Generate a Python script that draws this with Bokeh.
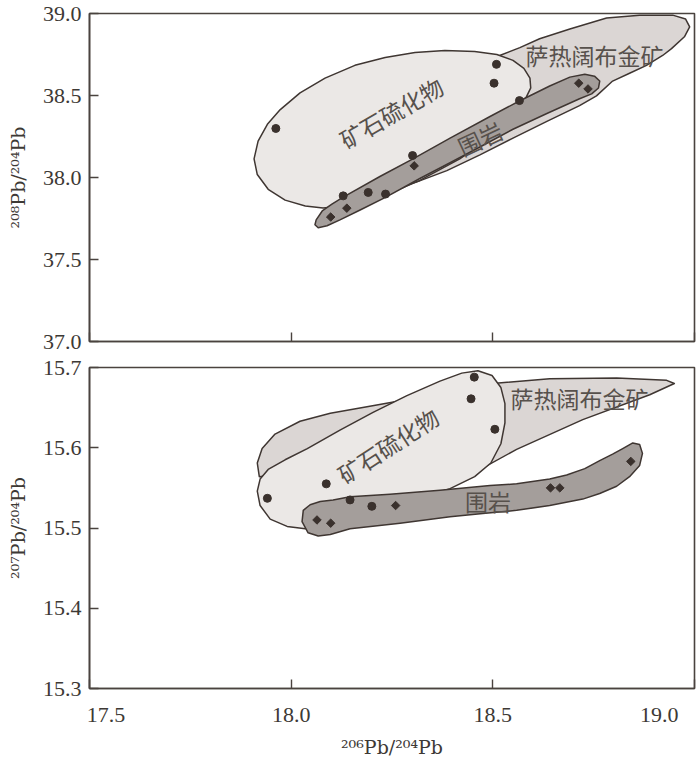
import math
from bokeh.plotting import figure
from bokeh.layouts import column
from bokeh.models import ColumnDataSource, FixedTicker, PrintfTickFormatter, Range1d
from bokeh.core.properties import value
from bokeh.embed import file_html
from bokeh.resources import INLINE

# ---------------- data ----------------
x_ticks = [17.5, 18.0, 18.5, 19.0]
y_ticks_top = [37.0, 37.5, 38.0, 38.5, 39.0]
y_ticks_bot = [15.3, 15.4, 15.5, 15.6, 15.7]

# 208Pb/204Pb vs 206Pb/204Pb
top_circ_x = [17.962, 18.509, 18.503, 18.566, 18.301, 18.129, 18.191, 18.234]
top_circ_y = [38.299, 38.690, 38.575, 38.469, 38.134, 37.888, 37.909, 37.899]
top_dia_x = [18.098, 18.138, 18.305, 18.713, 18.736]
top_dia_y = [37.759, 37.813, 38.071, 38.575, 38.540]

# 207Pb/204Pb vs 206Pb/204Pb
bot_circ_x = [18.454, 18.446, 18.505, 18.087, 17.941, 18.146, 18.200]
bot_circ_y = [15.688, 15.661, 15.623, 15.555, 15.537, 15.535, 15.527]
bot_dia_x = [18.064, 18.098, 18.259, 18.643, 18.666, 18.842]
bot_dia_y = [15.510, 15.506, 15.528, 15.550, 15.550, 15.583]

# field outlines (top panel)
top_sar_x = [18.270, 18.443, 18.517, 18.567, 18.616, 18.691, 18.782, 18.864, 18.946, 18.978,
             18.988, 18.975, 18.943, 18.921, 18.881, 18.839, 18.797, 18.757, 18.715, 18.634,
             18.550, 18.468, 18.386, 18.302, 18.228, 18.171, 18.121, 18.171]
top_sar_y = [38.564, 38.714, 38.744, 38.792, 38.846, 38.906, 38.972, 38.990, 38.990, 38.966,
             38.918, 38.858, 38.786, 38.744, 38.684, 38.636, 38.588, 38.498, 38.438, 38.342,
             38.240, 38.138, 38.042, 37.964, 37.886, 37.838, 37.874, 38.174]
top_sulf_x = [18.510, 18.550, 18.577, 18.592, 18.594, 18.582, 18.517, 18.418, 18.319, 18.220,
              18.134, 18.079, 18.035, 17.985, 17.943, 17.916, 17.908, 17.918, 17.941, 17.973,
              18.022, 18.084, 18.158, 18.233, 18.307, 18.381, 18.455]
top_sulf_y = [38.750, 38.714, 38.666, 38.606, 38.546, 38.486, 38.282, 38.114, 37.982, 37.892,
              37.826, 37.814, 37.826, 37.862, 37.928, 38.018, 38.114, 38.222, 38.324, 38.414,
              38.516, 38.606, 38.684, 38.732, 38.762, 38.774, 38.768]
top_wall_x = [18.062, 18.077, 18.101, 18.129, 18.220, 18.302, 18.394, 18.493, 18.567, 18.641,
              18.691, 18.728, 18.752, 18.765, 18.762, 18.745, 18.715, 18.634, 18.550, 18.468,
              18.394, 18.319, 18.235, 18.171, 18.121, 18.089, 18.067, 18.059]
top_wall_y = [37.742, 37.796, 37.838, 37.880, 38.006, 38.114, 38.240, 38.372, 38.468, 38.558,
              38.612, 38.630, 38.618, 38.588, 38.546, 38.510, 38.480, 38.390, 38.294, 38.186,
              38.090, 37.994, 37.880, 37.802, 37.742, 37.706, 37.694, 37.712]

# field outlines (bottom panel)
bot_sar_x = [18.950, 18.931, 18.807, 18.641, 18.500, 18.344, 18.188, 18.097, 18.022, 17.960,
             17.928, 17.916, 17.921, 18.022, 18.270, 18.406, 18.436, 18.559, 18.723, 18.889]
bot_sar_y = [15.680, 15.684, 15.687, 15.686, 15.680, 15.665, 15.651, 15.643, 15.633, 15.617,
             15.599, 15.581, 15.564, 15.570, 15.587, 15.557, 15.564, 15.598, 15.635, 15.666]
bot_sulf_x = [17.916, 17.923, 17.943, 17.985, 18.040, 18.121, 18.203, 18.287, 18.369, 18.423,
              18.463, 18.498, 18.520, 18.530, 18.530, 18.520, 18.495, 18.455, 18.394, 18.270,
              18.121, 18.035, 17.990, 17.948, 17.923]
bot_sulf_y = [15.546, 15.561, 15.573, 15.585, 15.599, 15.622, 15.644, 15.665, 15.683, 15.693,
              15.696, 15.690, 15.675, 15.655, 15.631, 15.605, 15.581, 15.564, 15.549, 15.530,
              15.514, 15.499, 15.502, 15.511, 15.528]
bot_wall_x = [18.027, 18.030, 18.047, 18.072, 18.104, 18.146, 18.245, 18.369, 18.493, 18.559,
              18.641, 18.683, 18.728, 18.765, 18.797, 18.822, 18.847, 18.864, 18.871, 18.864,
              18.839, 18.807, 18.765, 18.723, 18.641, 18.559, 18.475, 18.394, 18.270, 18.146,
              18.097, 18.067, 18.042]
bot_wall_y = [15.508, 15.522, 15.529, 15.533, 15.535, 15.539, 15.542, 15.547, 15.553, 15.555,
              15.561, 15.566, 15.574, 15.584, 15.592, 15.599, 15.606, 15.604, 15.593, 15.578,
              15.564, 15.552, 15.543, 15.536, 15.528, 15.522, 15.518, 15.514, 15.506, 15.499,
              15.492, 15.490, 15.494]

field_labels = ["矿石硫化物", "萨热阔布金矿", "围岩"]
top_label_x = [18.248, 18.752, 18.468]
top_label_y = [38.396, 38.750, 38.240]
top_label_angle = [30, 0, 25]
bot_label_x = [18.240, 18.715, 18.488]
bot_label_y = [15.603, 15.662, 15.534]
bot_label_angle = [33, 0, 0]

# ---------------- style ----------------
FRAME = "#4a433f"
EDGE = "#3f3632"
TXT = "#3d3935"
LBL = "#57514c"
SAR_FILL = "#dbd6d4"
SULF_FILL = "#ebe8e6"
WALL_FILL = "#a49e9b"
MARK = "#3a312d"
SERIF = "Liberation Serif"
LABEL_FONT = "DejaVu Serif"


def make_fig(height, y0, y1, yticks, ylabel, top_b, bot_b, xlabels):
    p = figure(width=700, height=height, x_range=Range1d(17.5, 19.0), y_range=Range1d(y0, y1),
               output_backend="svg", toolbar_location=None,
               min_border_left=89, min_border_right=6, min_border_top=top_b, min_border_bottom=bot_b)
    p.grid.visible = False
    p.background_fill_color = "white"
    p.border_fill_color = "white"
    p.outline_line_color = FRAME
    p.outline_line_width = 1.6
    p.outline_line_alpha = 1.0
    for ax in (p.xaxis[0], p.yaxis[0]):
        ax.axis_line_color = FRAME
        ax.axis_line_width = 1.6
        ax.major_tick_in = 9
        ax.major_tick_out = 0
        ax.major_tick_line_color = FRAME
        ax.major_tick_line_width = 1.4
        ax.minor_tick_line_color = None
        ax.major_label_text_font = SERIF
        ax.major_label_text_font_size = "22px"
        ax.major_label_text_color = TXT
        ax.axis_label_text_font = LABEL_FONT
        ax.axis_label_text_font_size = "19px"
        ax.axis_label_text_font_style = "normal"
        ax.axis_label_text_color = TXT
    p.xaxis.ticker = FixedTicker(ticks=x_ticks)
    p.yaxis.ticker = FixedTicker(ticks=yticks)
    p.yaxis.formatter = PrintfTickFormatter(format="%.1f")
    p.xaxis.formatter = PrintfTickFormatter(format="%.1f")
    p.yaxis.major_label_standoff = 8
    p.yaxis.axis_label = ylabel
    p.yaxis.axis_label_standoff = 11
    if xlabels:
        p.xaxis.major_label_standoff = 13
        p.xaxis.major_label_overrides = {x_ticks[0]: "\u2002\u2002\u2002" + "%.1f" % x_ticks[0],
                                         x_ticks[-1]: "%.1f" % x_ticks[-1] + "\u2002\u2002"}
        p.xaxis.axis_label = "²⁰⁶Pb/²⁰⁴Pb"
        p.xaxis.axis_label_standoff = 6
    else:
        p.xaxis.major_label_standoff = 0
        p.xaxis.major_label_overrides = {t: "" for t in x_ticks}
    return p


def draw_panel(p, sar, sulf, wall, circ, dia, lx, ly, lang):
    p.patch(sar[0], sar[1], fill_color=SAR_FILL, line_color=EDGE, line_width=1.5, line_join="round")
    p.patch(sulf[0], sulf[1], fill_color=SULF_FILL, line_color=EDGE, line_width=1.5, line_join="round")
    p.patch(wall[0], wall[1], fill_color=WALL_FILL, line_color=EDGE, line_width=1.5, line_join="round")
    p.scatter(circ[0], circ[1], marker="circle", size=8, fill_color=MARK, line_color=MARK)
    p.scatter(dia[0], dia[1], marker="square", angle=math.pi / 4, size=6,
              fill_color=MARK, line_color=MARK)
    src = ColumnDataSource(dict(x=lx, y=ly, text=field_labels,
                                angle=[math.radians(a) for a in lang]))
    p.text(x="x", y="y", text="text", angle="angle", source=src,
           text_font=value("Noto Sans CJK SC"), text_font_size="23px",
           text_color=LBL, text_align="center", text_baseline="middle")


p1 = make_fig(354, y_ticks_top[0], y_ticks_top[-1], y_ticks_top, "²⁰⁸Pb/²⁰⁴Pb", 13, 13, False)
draw_panel(p1, (top_sar_x, top_sar_y), (top_sulf_x, top_sulf_y), (top_wall_x, top_wall_y),
           (top_circ_x, top_circ_y), (top_dia_x, top_dia_y), top_label_x, top_label_y, top_label_angle)

p2 = make_fig(406, y_ticks_bot[0], y_ticks_bot[-1], y_ticks_bot, "²⁰⁷Pb/²⁰⁴Pb", 13, 67, True)
draw_panel(p2, (bot_sar_x, bot_sar_y), (bot_sulf_x, bot_sulf_y), (bot_wall_x, bot_wall_y),
           (bot_circ_x, bot_circ_y), (bot_dia_x, bot_dia_y), bot_label_x, bot_label_y, bot_label_angle)

layout = column(p1, p2, spacing=0)
open("out.html", "w").write(file_html(layout, INLINE))
